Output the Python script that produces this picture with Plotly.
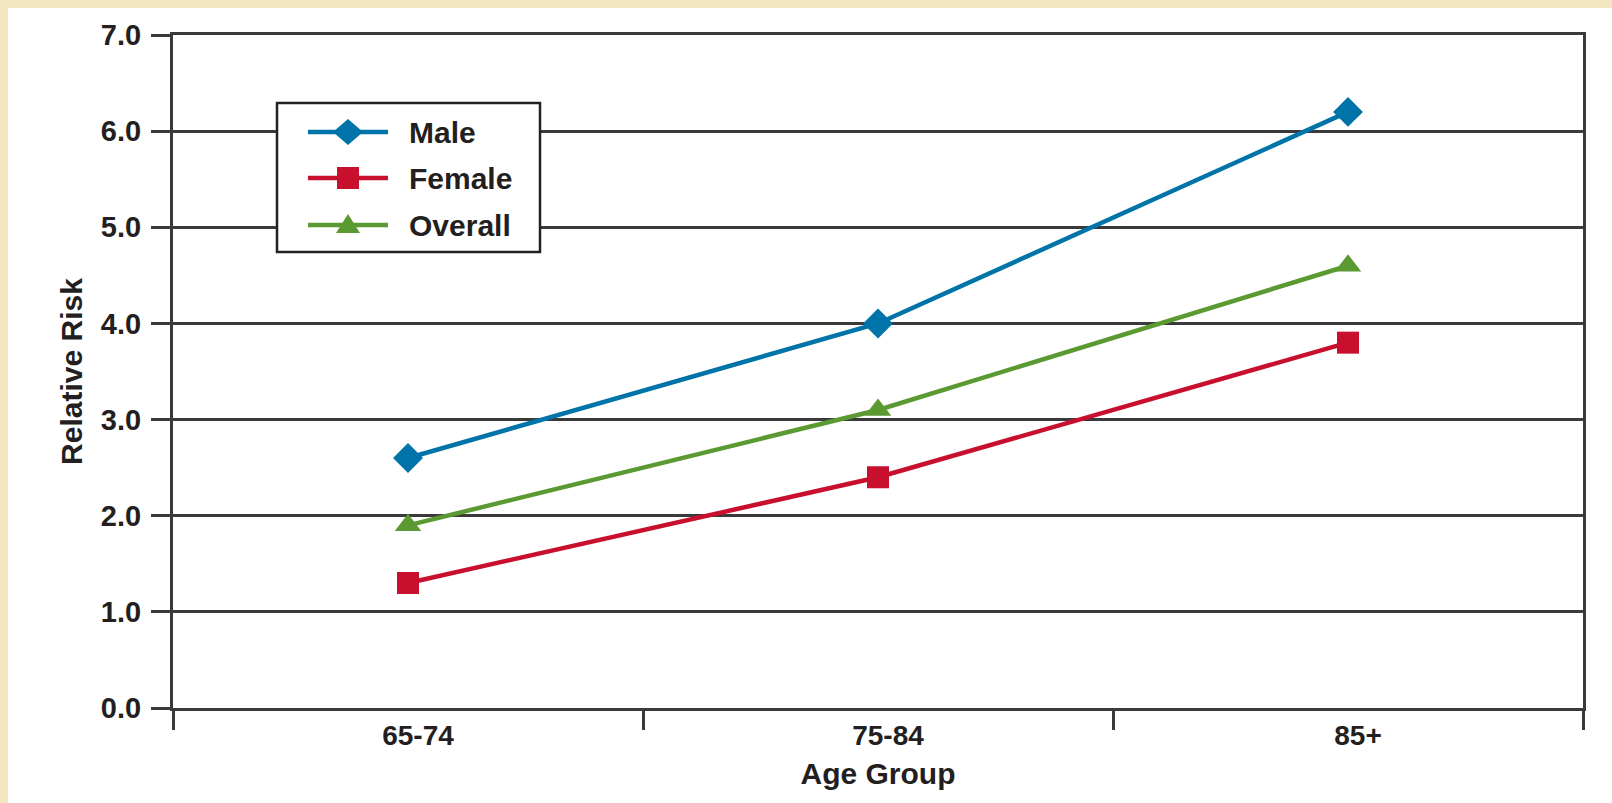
import plotly.graph_objects as go

# Relative risk by age group
age_groups = ["65-74", "75-84", "85+"]
male = [2.6, 4.0, 6.2]
female = [1.3, 2.4, 3.8]
overall = [1.9, 3.1, 4.6]
y_ticks = [0, 1, 2, 3, 4, 5, 6, 7]
y_tick_text = ["0.0", "1.0", "2.0", "3.0", "4.0", "5.0", "6.0", "7.0"]

series_names = ["Male", "Female", "Overall"]
series_values = [male, female, overall]
series_colors = ["#0074A8", "#C8102E", "#5B9A33"]
series_symbols = ["diamond", "square", "triangle-up"]
series_sizes = [23, 22, 23]

# pixel outlines of the legend glyphs (y measured upward)
glyph_paths = [
    "M-15,0 L0,13 L15,0 L0,-13 Z",
    "M-11,-11 L11,-11 L11,11 L-11,11 Z",
    "M-12,-8 L12,-8 L0,11 Z",
]

W, H = 1612, 803
L, R, T, B = 173, 29, 35, 95
PW, PH = W - L - R, H - T - B

FONT = "Liberation Sans, Arial, sans-serif"
INK = "#231F20"
GRID = "#3A3A3A"


def px_x(p):
    return (p - L) / PW


def px_y(p):
    return (H - B - p) / PH


fig = go.Figure()

for name, vals, color, symbol, size in zip(series_names, series_values,
                                           series_colors, series_symbols,
                                           series_sizes):
    fig.add_trace(go.Scatter(
        x=age_groups, y=vals, name=name, mode="lines+markers",
        line=dict(color=color, width=4.5),
        marker=dict(symbol=symbol, size=size, color=color, line=dict(width=0)),
        showlegend=False,
    ))

shapes = [
    # white sheet over the parchment border
    dict(type="rect", xref="paper", yref="paper", layer="below",
         x0=px_x(8), x1=px_x(W + 5), y0=px_y(H + 5), y1=px_y(8),
         fillcolor="white", line=dict(width=0)),
    # legend frame
    dict(type="rect", xref="paper", yref="paper", layer="above",
         x0=px_x(277), x1=px_x(540), y0=px_y(252), y1=px_y(103),
         fillcolor="white", line=dict(color="#222222", width=2.5)),
]

# legend entries: key line, glyph and label
key_x0, key_x1, label_x = 308, 388, 407
key_rows = [132, 178, 225]
for name, color, path, ky in zip(series_names, series_colors, glyph_paths,
                                 key_rows):
    shapes.append(dict(
        type="line", xref="paper", yref="paper", layer="above",
        x0=px_x(key_x0), x1=px_x(key_x1), y0=px_y(ky), y1=px_y(ky),
        line=dict(color=color, width=4.5),
    ))
    shapes.append(dict(
        type="path", xref="paper", yref="paper", layer="above",
        xsizemode="pixel", ysizemode="pixel",
        xanchor=px_x((key_x0 + key_x1) / 2), yanchor=px_y(ky),
        path=path, fillcolor=color, line=dict(width=0),
    ))
    fig.add_annotation(
        x=px_x(label_x), y=px_y(ky), xref="paper", yref="paper",
        text=f"<b>{name}</b>", showarrow=False,
        xanchor="left", yanchor="middle",
        font=dict(family=FONT, size=30, color=INK),
    )

fig.update_layout(
    width=W, height=H,
    margin=dict(l=L, r=R, t=T, b=B, autoexpand=False),
    paper_bgcolor="#F5E6C2",
    plot_bgcolor="white",
    shapes=shapes,
    showlegend=False,
    xaxis=dict(
        type="category", range=[-0.5, 2.5], tickson="boundaries",
        ticks="outside", ticklen=19, tickwidth=3, tickcolor=GRID,
        showgrid=False, showline=True, linecolor=GRID, linewidth=3,
        mirror=True, zeroline=False, ticklabelstandoff=0, ticklabelshift=10,
        tickfont=dict(family=FONT, size=28, color=INK, weight="bold"),
        title=dict(text="Age Group", standoff=14,
                   font=dict(family=FONT, size=30, color=INK, weight="bold")),
    ),
    yaxis=dict(
        range=[0, 7], tickvals=y_ticks, ticktext=y_tick_text,
        ticks="outside", ticklen=19, tickwidth=3, tickcolor=GRID,
        showgrid=True, gridcolor=GRID, gridwidth=3,
        showline=True, linecolor=GRID, linewidth=3, mirror=True,
        zeroline=False, ticklabelstandoff=4,
        tickfont=dict(family=FONT, size=29, color=INK, weight="bold"),
        title=dict(text="Relative Risk", standoff=10,
                   font=dict(family=FONT, size=30, color=INK, weight="bold")),
    ),
)

fig.write_html("out.html")
